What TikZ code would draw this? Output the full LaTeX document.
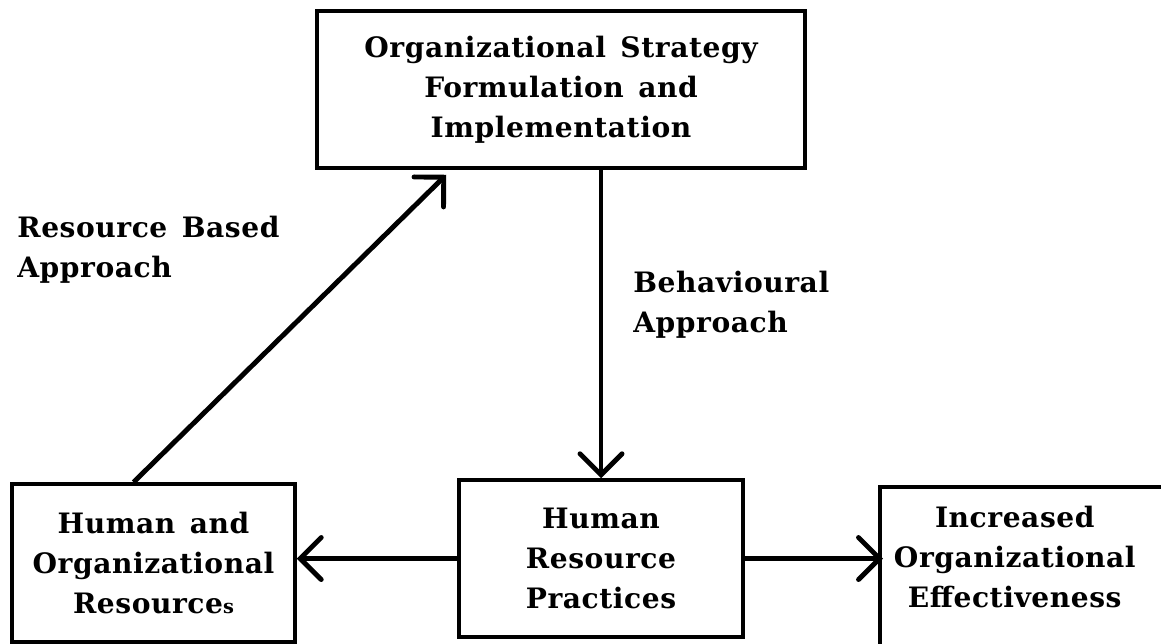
\documentclass[tikz,border=0pt]{standalone}
\usepackage{fontspec}
\setmainfont{DejaVu Serif}[LetterSpace=2, WordSpace=1.4]
\usepackage{tikz}
\usetikzlibrary{arrows.meta, positioning, calc}

\begin{document}
\begin{tikzpicture}[
  font=\fontsize{16}{22.8}\selectfont\bfseries,
  box/.style={draw, line width=2pt, align=center, inner sep=0pt},
  arr/.style={line width=2.8pt,
    -{Straight Barb[length=0.42cm, width=0.84cm, line cap=round]}},
  lbl/.style={align=left, anchor=north west, inner sep=0pt}
]
  \useasboundingbox (0,0) rectangle (23.22,-12.86);

  % the four boxes
  \node[box, minimum width=9.76cm, minimum height=3.14cm] (strat) at (11.22,-1.79)
    {Organizational Strategy\\Formulation and\\Implementation};
  \node[box, minimum width=5.66cm, minimum height=3.16cm] (res) at (3.07,-11.26)
    {Human and\\Organizational\\Resource{\fontsize{11}{12}\selectfont s}};
  \node[box, minimum width=5.68cm, minimum height=3.14cm] (hrp) at (12.02,-11.17)
    {Human\\Resource\\Practices};
  \node[box, anchor=north west, minimum width=5.8cm, minimum height=3.5cm,
    label={[align=center, xshift=-0.2cm, yshift=0.35cm]center:{Increased\\Organizational\\Effectiveness}}]
    (eff) at (17.56,-9.70) {};

  % approaches
  \node[lbl] (rba) at (0.34,-4.32) {Resource Based\\Approach};
  \node[lbl] (beh) at (12.66,-5.42) {Behavioural\\Approach};

  % links
  \draw[arr] ([xshift=-0.4cm]res.north) -- ([xshift=2.62cm,yshift=-0.1cm]strat.south west);
  \draw[arr] (hrp.north |- strat.south) -- (hrp.north);
  \draw[arr] (hrp.west) -- (hrp.west -| res.east);
  \draw[arr] (hrp.east) -- ([xshift=0.1cm]hrp.east -| eff.west);
\end{tikzpicture}
\end{document}
